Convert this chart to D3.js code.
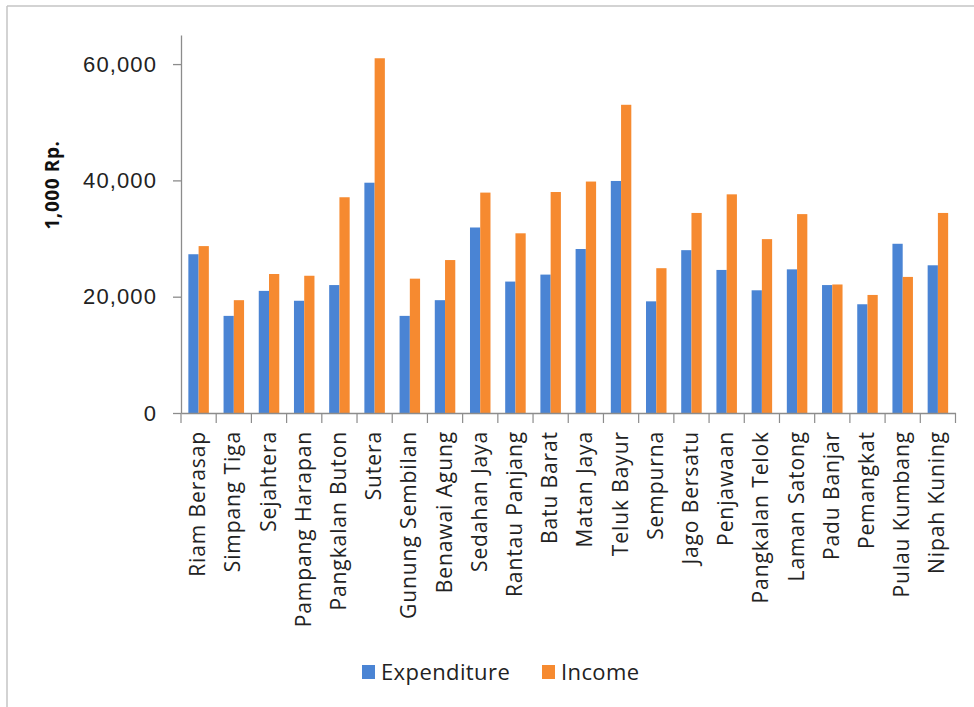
<!DOCTYPE html>
<html>
<head>
<meta charset="utf-8">
<script src="https://cdn.jsdelivr.net/npm/d3@7/dist/d3.min.js"></script>
<style>
  html, body { margin: 0; padding: 0; background: #fff; }
  svg { display: block; font-family: "Open Sans", sans-serif; }
</style>
</head>
<body>
<svg id="chart" width="974" height="707"></svg>
<script>
// Villages (sub-districts) on the horizontal axis
const categories = [
  "Riam Berasap", "Simpang Tiga", "Sejahtera", "Pampang Harapan", "Pangkalan Buton",
  "Sutera", "Gunung Sembilan", "Benawai Agung", "Sedahan Jaya", "Rantau Panjang",
  "Batu Barat", "Matan Jaya", "Teluk Bayur", "Sempurna", "Jago Bersatu",
  "Penjawaan", "Pangkalan Telok", "Laman Satong", "Padu Banjar", "Pemangkat",
  "Pulau Kumbang", "Nipah Kuning"
];

// Household expenditure and income, in thousands of rupiah
const expenditure = [
  27300, 16700, 21000, 19300, 22000,
  39600, 16700, 19400, 31900, 22600,
  23800, 28200, 39900, 19200, 28000,
  24600, 21100, 24700, 22000, 18700,
  29100, 25400
];
const income = [
  28700, 19400, 23900, 23600, 37100,
  61000, 23100, 26300, 37900, 30900,
  38000, 39800, 53000, 24900, 34400,
  37600, 29900, 34200, 22100, 20300,
  23400, 34400
];

const seriesNames = ["Expenditure", "Income"];
const seriesColors = ["#4a84d4", "#f68a30"];
const yTicks = [0, 20000, 40000, 60000];
const yTitle = "1,000 Rp.";

const svg = d3.select("#chart");

// Frame lines along the top and left edges
svg.append("line").attr("x1", 7).attr("y1", 6).attr("x2", 974).attr("y2", 6)
  .attr("stroke", "#c4c4c4").attr("stroke-width", 1.5);
svg.append("line").attr("x1", 7).attr("y1", 6).attr("x2", 7).attr("y2", 707)
  .attr("stroke", "#c4c4c4").attr("stroke-width", 1.5);

const plot = { left: 181, right: 955.5, top: 35, bottom: 413 };

const x = d3.scaleBand().domain(categories).range([plot.left, plot.right]).padding(0);
const groupW = 20.5;
const xs = d3.scaleBand().domain(seriesNames)
  .range([x.bandwidth() / 2 - groupW / 2, x.bandwidth() / 2 + groupW / 2]).padding(0);
const y = d3.scaleLinear().domain([0, 65000]).range([plot.bottom, plot.top]);

const rows = categories.map((c, i) => ({ cat: c, values: [expenditure[i], income[i]] }));

// Bars
const groups = svg.append("g").selectAll("g").data(rows).join("g")
  .attr("transform", d => `translate(${x(d.cat)},0)`);
groups.selectAll("rect")
  .data(d => d.values.map((v, k) => ({ key: seriesNames[k], v, k })))
  .join("rect")
  .attr("x", d => xs(d.key))
  .attr("width", xs.bandwidth())
  .attr("y", d => y(d.v))
  .attr("height", d => y(0) - y(d.v))
  .attr("fill", d => seriesColors[d.k]);

// Y axis
const yAxis = svg.append("g")
  .attr("transform", `translate(${plot.left},0)`)
  .call(d3.axisLeft(y).tickValues(yTicks).tickSize(8).tickSizeOuter(0)
    .tickFormat(d3.format(",")));
yAxis.select(".domain").attr("stroke", "#8c8c8c").attr("stroke-width", 1.3);
yAxis.selectAll(".tick line").attr("stroke", "#8c8c8c").attr("stroke-width", 1.3);
yAxis.selectAll(".tick text")
  .attr("x", -24)
  .attr("fill", "#222")
  .style("font-size", "22px")
  .style("letter-spacing", "1.1px");

// X axis: baseline with ticks at category boundaries
const xAxis = svg.append("g")
  .attr("transform", `translate(0,${plot.bottom})`)
  .call(d3.axisBottom(x).tickSize(0).tickFormat(""));
xAxis.select(".domain").attr("stroke", "#8c8c8c").attr("stroke-width", 1.3);
xAxis.selectAll(".tick").remove();
const bounds = categories.map(c => x(c)).concat([x(categories[categories.length - 1]) + x.step()]);
xAxis.selectAll("line.bound").data(bounds).join("line")
  .attr("class", "bound")
  .attr("x1", d => d).attr("x2", d => d)
  .attr("y1", 0).attr("y2", 10)
  .attr("stroke", "#8c8c8c").attr("stroke-width", 1.2);

// Rotated category labels
svg.append("g").selectAll("text").data(categories).join("text")
  .attr("transform", d => `translate(${x(d) + x.bandwidth() / 2 + 6.5},431) rotate(-90)`)
  .attr("text-anchor", "end")
  .attr("fill", "#222")
  .style("font-size", "21px")
  .style("letter-spacing", "0.9px")
  .text(d => d);

// Y axis title
svg.append("text")
  .attr("transform", "translate(59,185) rotate(-90)")
  .attr("text-anchor", "middle")
  .attr("fill", "#111")
  .style("font-size", "19px")
  .style("font-weight", "bold")
  .style("letter-spacing", "0.6px")
  .text(yTitle);

// Legend
const legendX = [362, 542];
const legend = svg.append("g").selectAll("g").data(seriesNames).join("g")
  .attr("transform", (d, i) => `translate(${legendX[i]},665)`);
legend.append("rect").attr("width", 13).attr("height", 14)
  .attr("fill", (d, i) => seriesColors[i]);
legend.append("text").attr("x", 19).attr("y", 15)
  .attr("fill", "#222")
  .style("font-size", "22px")
  .style("letter-spacing", "0.4px")
  .text(d => d);
</script>
</body>
</html>
